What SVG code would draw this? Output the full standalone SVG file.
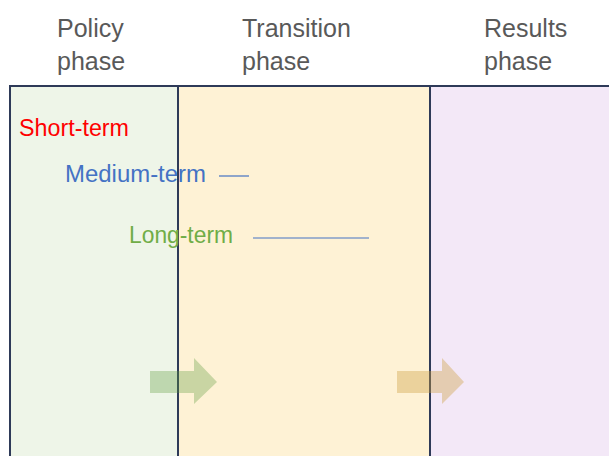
<svg xmlns="http://www.w3.org/2000/svg" width="609" height="456" viewBox="0 0 609 456">
<style>
.hdr{font-family:"Liberation Sans",Arial,sans-serif;font-size:25px;fill:#595959}
.lbl{font-family:"Liberation Sans",Arial,sans-serif;font-size:23px}
.frame{stroke:#2E3A58;stroke-width:2;fill:none}
.tl{stroke:#4472C4;stroke-width:1.2}
</style>
<rect width="609" height="456" fill="#FFFFFF"/>
<g id="policy-phase">
<rect x="10" y="86" width="168" height="372" fill="#EEF5E8"/>
<text class="hdr" x="57" y="37">Policy</text>
<text class="hdr" x="57" y="70">phase</text>
</g>
<g id="transition-phase">
<rect x="178" y="86" width="252" height="372" fill="#FEF2D5"/>
<text class="hdr" x="242" y="37">Transition</text>
<text class="hdr" x="242" y="70">phase</text>
</g>
<g id="results-phase">
<rect x="430" y="86" width="181" height="372" fill="#F3E8F7"/>
<text class="hdr" x="484" y="37">Results</text>
<text class="hdr" x="484" y="70">phase</text>
</g>
<g id="frame">
<path class="frame" d="M10 458 V86 H611"/>
<line class="frame" x1="178" y1="86" x2="178" y2="458"/>
<line class="frame" x1="430" y1="86" x2="430" y2="458"/>
</g>
<g id="short-term">
<text class="lbl" x="19" y="136" fill="#FF0000" textLength="110" lengthAdjust="spacingAndGlyphs">Short-term</text>
</g>
<g id="medium-term">
<text class="lbl" x="65" y="182" fill="#4472C4" textLength="141" lengthAdjust="spacingAndGlyphs">Medium-term</text>
</g>
<g id="long-term">
<text class="lbl" x="129" y="243" fill="#70AD47" textLength="104" lengthAdjust="spacingAndGlyphs">Long-term</text>
</g>
<g id="connectors">
<line class="tl" x1="219" y1="176" x2="249" y2="176"/>
<line class="tl" x1="253" y1="238" x2="369" y2="238"/>
<polygon points="150,371 194,371 194,358 217,382 194,404 194,393 150,393" fill="#5E9A3C" fill-opacity="0.33"/>
<polygon points="397,371 442,371 442,358 464,382 442,404 442,393 397,393" fill="#CE9E3E" fill-opacity="0.38"/>
</g>
</svg>
